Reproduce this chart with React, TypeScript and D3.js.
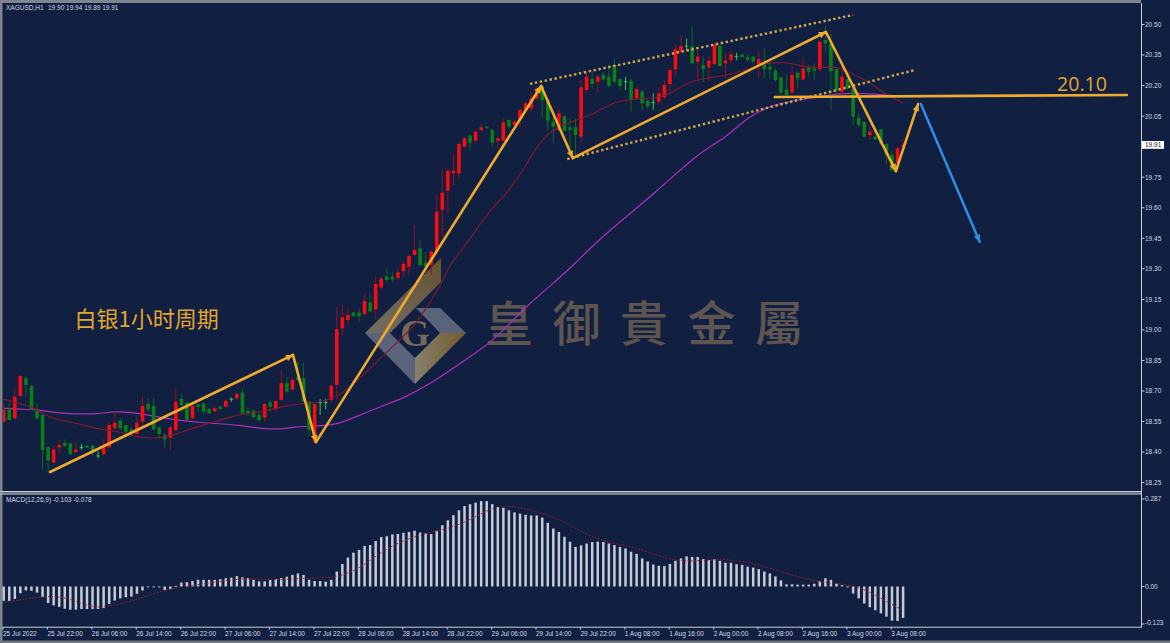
import React from 'react';
import * as d3 from 'd3';

const opens = [
18.549,18.610,18.566,18.675,18.762,18.724,18.603,18.582,18.423,18.348,
18.422,18.446,18.443,18.400,18.423,18.431,18.431,18.381,18.390,18.423,
18.517,18.554,18.533,18.512,18.489,18.549,18.636,18.626,18.521,18.482,
18.471,18.508,18.661,18.643,18.566,18.633,18.639,18.613,18.600,18.623,
18.623,18.659,18.664,18.692,18.603,18.603,18.582,18.569,18.644,18.610,
18.656,18.738,18.708,18.767,18.762,18.648,18.451,18.643,18.644,18.656,
18.730,19.008,19.049,19.085,19.085,19.078,19.134,19.101,19.209,19.262,
19.262,19.255,19.288,19.311,19.368,19.401,19.330,19.319,19.384,19.589,
19.684,19.769,19.769,19.900,19.954,19.929,19.982,19.998,19.982,19.929,
19.929,20.031,20.006,20.031,20.080,20.088,20.137,20.198,20.126,20.022,
19.982,20.050,19.995,19.995,19.949,20.178,20.232,20.219,20.252,20.244,
20.301,20.232,20.219,20.224,20.137,20.170,20.124,20.116,20.121,20.142,
20.208,20.280,20.366,20.394,20.394,20.317,20.301,20.289,20.306,20.396,
20.309,20.325,20.342,20.352,20.340,20.342,20.306,20.306,20.293,20.273,
20.240,20.181,20.165,20.263,20.230,20.289,20.284,20.280,20.424,20.407,
20.281,20.170,20.232,20.186,20.042,20.022,19.957,19.949,19.985,19.913,
19.859,19.821,19.90];
const highs = [
18.639,18.639,18.713,18.778,18.770,18.729,18.639,18.598,18.430,18.430,
18.459,18.462,18.446,18.456,18.440,18.433,18.435,18.402,18.462,18.549,
18.598,18.566,18.533,18.521,18.574,18.672,18.664,18.664,18.525,18.492,
18.533,18.713,18.688,18.647,18.631,18.639,18.643,18.616,18.626,18.625,
18.659,18.669,18.697,18.713,18.620,18.610,18.593,18.643,18.656,18.652,
18.803,18.770,18.762,18.844,18.839,18.648,18.636,18.661,18.661,18.735,
19.111,19.122,19.106,19.088,19.106,19.176,19.171,19.262,19.262,19.302,
19.286,19.311,19.335,19.373,19.515,19.442,19.384,19.393,19.663,19.794,
19.794,19.864,19.925,19.949,19.962,19.982,20.011,20.001,19.990,19.944,
20.039,20.034,20.031,20.088,20.121,20.162,20.195,20.203,20.129,20.067,
20.083,20.054,20.039,20.039,20.230,20.268,20.268,20.252,20.268,20.301,
20.329,20.235,20.244,20.235,20.191,20.178,20.137,20.162,20.191,20.230,
20.289,20.399,20.448,20.432,20.492,20.375,20.342,20.342,20.411,20.399,
20.358,20.371,20.361,20.352,20.350,20.345,20.371,20.383,20.312,20.284,
20.244,20.252,20.293,20.268,20.342,20.301,20.309,20.427,20.492,20.456,
20.284,20.293,20.235,20.194,20.064,20.022,19.998,19.952,19.985,19.916,
19.880,19.900,19.94];
const lows = [
18.541,18.557,18.558,18.672,18.672,18.607,18.558,18.312,18.304,18.345,
18.394,18.423,18.386,18.394,18.410,18.420,18.381,18.369,18.381,18.418,
18.517,18.508,18.492,18.484,18.484,18.528,18.598,18.508,18.467,18.423,
18.410,18.500,18.598,18.557,18.558,18.598,18.587,18.587,18.593,18.610,
18.620,18.647,18.656,18.582,18.574,18.566,18.549,18.549,18.598,18.593,
18.647,18.692,18.702,18.749,18.648,18.479,18.443,18.582,18.610,18.640,
18.659,18.967,19.019,19.065,19.041,19.068,19.085,19.052,19.196,19.237,
19.232,19.242,19.258,19.270,19.363,19.311,19.302,19.270,19.368,19.458,
19.573,19.712,19.749,19.897,19.880,19.920,19.974,19.988,19.900,19.889,
19.925,19.995,19.995,19.998,20.072,20.072,20.129,20.039,19.982,19.919,
19.978,19.975,19.867,19.851,19.919,20.162,20.186,20.165,20.224,20.191,
20.214,20.178,20.178,20.072,20.129,20.080,20.088,20.080,20.104,20.132,
20.170,20.244,20.361,20.371,20.306,20.224,20.219,20.219,20.301,20.293,
20.235,20.309,20.325,20.337,20.317,20.312,20.240,20.235,20.235,20.219,
20.154,20.149,20.162,20.186,20.227,20.247,20.230,20.268,20.366,20.080,
20.145,20.162,20.178,20.006,19.998,19.946,19.930,19.933,19.908,19.818,
19.777,19.777,19.89];
const closes = [
18.607,18.557,18.672,18.774,18.729,18.610,18.566,18.410,18.358,18.413,
18.435,18.430,18.390,18.413,18.421,18.422,18.397,18.379,18.423,18.533,
18.544,18.517,18.500,18.495,18.544,18.626,18.610,18.512,18.489,18.462,
18.521,18.647,18.631,18.557,18.626,18.623,18.598,18.590,18.615,18.611,
18.651,18.657,18.685,18.590,18.590,18.571,18.557,18.636,18.623,18.651,
18.738,18.697,18.754,18.754,18.648,18.509,18.636,18.641,18.642,18.725,
19.003,19.062,19.073,19.068,19.068,19.142,19.091,19.226,19.252,19.245,
19.248,19.283,19.324,19.363,19.393,19.319,19.311,19.384,19.581,19.674,
19.782,19.782,19.913,19.941,19.920,19.974,19.995,19.992,19.920,19.941,
20.019,19.998,20.023,20.080,20.113,20.137,20.186,20.129,20.027,19.998,
20.064,19.978,19.982,19.957,20.191,20.244,20.208,20.244,20.230,20.198,
20.219,20.198,20.217,20.129,20.183,20.113,20.100,20.114,20.162,20.203,
20.276,20.379,20.394,20.392,20.309,20.342,20.280,20.322,20.402,20.296,
20.322,20.353,20.340,20.340,20.327,20.317,20.330,20.280,20.280,20.227,
20.165,20.154,20.252,20.235,20.284,20.268,20.273,20.415,20.407,20.271,
20.178,20.244,20.186,20.047,20.006,19.949,19.974,19.936,19.916,19.859,
19.785,19.892,19.91];

const redMaBars = [0,2,5,7,9,13,17,20,22,24,27,30,33,37,41,44,47,51,55,60,66,70,74,77,79,80,84,87,91,94,97,101,104,107,110,113,119,121,124,128,133,137,140,143,146,150,152,156,158,162];
const redMaValues = [18.659,18.643,18.626,18.590,18.561,18.544,18.512,18.503,18.492,18.472,18.467,18.476,18.508,18.541,18.574,18.593,18.598,18.631,18.639,18.655,18.811,18.918,19.016,19.147,19.229,19.311,19.442,19.573,19.679,19.802,19.949,20.015,20.035,20.072,20.121,20.132,20.142,20.178,20.227,20.239,20.268,20.309,20.317,20.301,20.284,20.296,20.268,20.219,20.170,20.113];
const purpleMaBars = [0,3,6,9,13,17,20,23,26,29,32,36,38,42,45,48,50,53,56,60,64,68,72,77,80,85,89,94,99,103,107,118,125,130,134,139,145,149,152,157,161];
const purpleMaValues = [18.615,18.610,18.610,18.593,18.587,18.587,18.600,18.595,18.582,18.566,18.554,18.544,18.541,18.533,18.521,18.513,18.513,18.525,18.528,18.533,18.580,18.625,18.664,18.738,18.795,18.885,18.967,19.114,19.229,19.327,19.442,19.687,19.867,19.941,20.047,20.113,20.137,20.154,20.165,20.158,20.149];

const macd = [
-0.047,-0.047,-0.041,-0.022,-0.013,-0.014,-0.020,-0.035,-0.054,-0.062,
-0.067,-0.073,-0.076,-0.076,-0.074,-0.074,-0.074,-0.074,-0.071,-0.057,
-0.046,-0.039,-0.035,-0.033,-0.024,-0.013,-0.001,-0.001,-0.003,-0.011,
-0.009,0.002,0.013,0.014,0.018,0.022,0.022,0.022,0.022,0.024,
0.027,0.029,0.034,0.030,0.027,0.022,0.017,0.017,0.021,0.024,
0.028,0.032,0.038,0.043,0.038,0.022,0.018,0.018,0.016,0.022,
0.049,0.074,0.095,0.111,0.120,0.133,0.136,0.149,0.162,0.165,
0.171,0.172,0.176,0.179,0.183,0.177,0.174,0.172,0.183,0.201,
0.217,0.234,0.250,0.264,0.270,0.275,0.280,0.280,0.270,0.261,
0.258,0.250,0.243,0.239,0.235,0.233,0.233,0.226,0.209,0.190,
0.179,0.163,0.147,0.130,0.135,0.141,0.146,0.147,0.146,0.141,
0.136,0.130,0.125,0.114,0.107,0.092,0.082,0.072,0.068,0.067,
0.074,0.084,0.092,0.099,0.097,0.097,0.090,0.087,0.090,0.084,
0.078,0.078,0.073,0.071,0.065,0.062,0.057,0.049,0.043,0.033,
0.020,0.007,0.007,0.006,0.006,0.006,0.009,0.018,0.027,0.022,
0.009,0.004,-0.003,-0.023,-0.039,-0.056,-0.068,-0.078,-0.088,-0.099,
-0.112,-0.113,-0.103];
const signalBars = [0,4,8,12,16,20,24,28,32,36,40,44,48,52,56,60,64,68,72,76,80,84,88,92,96,100,104,108,112,116,120,124,128,132,136,140,144,148,152,156,160,162];
const signalValues = [-0.052,-0.041,-0.030,-0.038,-0.073,-0.062,-0.043,-0.016,0.000,0.008,0.020,0.027,0.022,0.024,0.029,0.029,0.057,0.114,0.152,0.174,0.190,0.217,0.261,0.264,0.245,0.223,0.179,0.147,0.136,0.114,0.087,0.082,0.089,0.087,0.071,0.049,0.027,0.011,0.009,-0.016,-0.060,-0.078];

const timeLabels = ['25 Jul 2022','25 Jul 22:00','26 Jul 06:00','26 Jul 14:00','26 Jul 22:00','27 Jul 06:00','27 Jul 14:00','27 Jul 22:00','28 Jul 06:00','28 Jul 14:00','28 Jul 22:00','29 Jul 06:00','29 Jul 14:00','29 Jul 22:00','1 Aug 08:00','1 Aug 16:00','2 Aug 00:00','2 Aug 08:00','2 Aug 16:00','3 Aug 00:00','3 Aug 08:00'];
const priceTicks = [20.5,20.35,20.2,20.05,19.9,19.75,19.6,19.45,19.3,19.15,19.0,18.85,18.7,18.55,18.4,18.25];
const macdTicks = [0.287,0,-0.123];

type Seg = { a: [number, number]; b: [number, number]; arrow: boolean };
const goldSegments: Seg[] = [
  { a: [8.34, 18.302], b: [52.1, 18.877], arrow: true },
  { a: [52.1, 18.877], b: [56.25, 18.449], arrow: true },
  { a: [56.25, 18.449], b: [96.8, 20.198], arrow: true },
  { a: [96.8, 20.198], b: [102.5, 19.844], arrow: true },
  { a: [102.5, 19.844], b: [148.1, 20.463], arrow: true },
  { a: [148.1, 20.463], b: [160.7, 19.78], arrow: true },
  { a: [160.7, 19.78], b: [164.7, 20.11], arrow: true },
  { a: [138.9, 20.144], b: [202.3, 20.154], arrow: false },
];
const blueSegment: Seg = { a: [165.2, 20.11], b: [175.8, 19.432], arrow: true };
const dottedSegments: Seg[] = [
  { a: [94.8, 20.208], b: [153, 20.547], arrow: false },
  { a: [101.5, 19.839], b: [164.2, 20.277], arrow: false },
];

const BG = '#111f41';
const FRAME = '#c9d0d6';
const TXT = '#d3d9e2';
const GOLD = '#efac2c';
const UI = '"Liberation Sans", Arial, sans-serif';

const x = d3.scaleLinear().domain([0, 162]).range([3.7, 903.1]);
const y = d3.scaleLinear().domain([20.5, 18.25]).range([24.5, 482.6]);
const yM = d3.scaleLinear().domain([0.287, -0.123]).range([499, 624]);

const curve = d3.curveBasis;
const maLine = d3.line<[number, number]>().x(d => x(d[0])).y(d => y(d[1])).curve(curve);
const sigLine = d3.line<[number, number]>().x(d => x(d[0])).y(d => yM(d[1])).curve(curve);

function SegLine({ s, color, w }: { s: Seg; color: string; w: number }) {
  const x1 = x(s.a[0]), y1 = y(s.a[1]), x2 = x(s.b[0]), y2 = y(s.b[1]);
  const ang = Math.atan2(y2 - y1, x2 - x1);
  const L = 7, H = 3.4;
  const bx = x2 - L * Math.cos(ang), by = y2 - L * Math.sin(ang);
  const pts = [[x2, y2], [bx - H * Math.sin(ang), by + H * Math.cos(ang)], [bx + H * Math.sin(ang), by - H * Math.cos(ang)]];
  return (
    <g>
      <line x1={x1} y1={y1} x2={x2} y2={y2} stroke={color} strokeWidth={w} strokeLinecap="round" />
      {s.arrow && <polygon points={pts.map(p => p.join(',')).join(' ')} fill={color} />}
    </g>
  );
}

export default function App() {
  return (
    <svg width={1170} height={643} style={{ position: 'absolute', left: 0, top: 0, display: 'block', background: BG }} fontFamily={UI}>
      <defs>
        <linearGradient id="goldBand" x1="0" y1="1" x2="1" y2="0">
          <stop offset="0" stopColor="#736e66" />
          <stop offset="1" stopColor="#655330" />
        </linearGradient>
        <linearGradient id="goldLow" x1="0" y1="0" x2="1" y2="0">
          <stop offset="0" stopColor="#87806f" />
          <stop offset="1" stopColor="#705a28" />
        </linearGradient>
        <clipPath id="mainClip"><rect x={3} y={3} width={1138} height={488} /></clipPath>
      </defs>

      {/* window frame */}
      <rect x={0} y={0} width={1141} height={3} fill="#7d868e" />
      <rect x={0} y={0} width={2.5} height={643} fill="#7d868e" />
      <rect x={0} y={640.5} width={1170} height={2.5} fill="#6f7880" />
      <rect x={0} y={491} width={1141} height={1.2} fill={FRAME} />
      <rect x={0} y={492.2} width={1141} height={1.3} fill="#6f7880" />
      <rect x={0} y={493.5} width={1141} height={1} fill={FRAME} />
      <rect x={2.5} y={626.7} width={1139} height={1} fill={FRAME} />
      <rect x={1141} y={3} width={1} height={624.7} fill={FRAME} />

      {/* watermark logo */}
      <g>
        <polygon points="365,333 441,258 441,282 390,333" fill="url(#goldBand)" />
        <polygon points="365,333 390,333 415,358 415,384" fill="#5a6379" />
        <polygon points="415,384 415,358 440,333 466,333" fill="url(#goldLow)" />
        <polygon points="416,308 440,308 466,333 440,333" fill="#5a6379" />
        <text x={415} y={346} textAnchor="middle" fontFamily='"Liberation Serif", serif' fontWeight={700} fontSize={38} fill="#77695a">G</text>
        <text x={485} y={341} fontFamily='"Noto Sans CJK TC", sans-serif' fontWeight={500} fontSize={48} letterSpacing={19.5} fill="#5e5550">皇御貴金屬</text>
      </g>

      <g clipPath="url(#mainClip)">
        {/* moving averages */}
        <path d={maLine(purpleMaBars.map((b, i) => [b, purpleMaValues[i]] as [number, number])) || ''} fill="none" stroke="#ad2fbc" strokeWidth={1.2} />
        {/* candles */}
        {opens.map((o, i) => {
          const c = closes[i];
          const up = c > o;
          const doji = Math.abs(c - o) < 0.0035;
          const cx = x(i);
          const top = y(Math.max(o, c));
          const bottom = y(Math.min(o, c));
          const body = up ? '#f50d13' : '#0a7f18';
          const wick = doji ? '#37c553' : up ? '#94121f' : '#0c6a22';
          return (
            <g key={i}>
              <line x1={cx} x2={cx} y1={y(highs[i])} y2={y(lows[i])} stroke={wick} strokeWidth={1} />
              {doji
                ? <line x1={cx - 1.8} x2={cx + 1.8} y1={top} y2={top} stroke={wick} strokeWidth={1} />
                : <rect x={cx - 1.8} y={top} width={3.6} height={Math.max(bottom - top, 1)} fill={body} />}
            </g>
          );
        })}
        <path d={maLine(redMaBars.map((b, i) => [b, redMaValues[i]] as [number, number])) || ''} fill="none" stroke="#85192f" strokeWidth={1.1} />

        {/* drawings */}
        {dottedSegments.map((s, i) => (
          <line key={i} x1={x(s.a[0])} y1={y(s.a[1])} x2={x(s.b[0])} y2={y(s.b[1])} stroke="#d4a74c" strokeWidth={2.4} strokeDasharray="2.4 2.6" />
        ))}
        {goldSegments.map((s, i) => <SegLine key={i} s={s} color={GOLD} w={2.6} />)}
        <SegLine s={blueSegment} color="#2f8ee6" w={2.5} />
      </g>

      {/* annotations */}
      <text x={74.5} y={327} fontFamily='"Noto Sans CJK SC", sans-serif' fontSize={22} fill="#e3a52d">白银1小时周期</text>
      <text x={1057} y={91} fontFamily='"Open Sans", sans-serif' fontSize={19.6} fill="#e3a52d">20.10</text>

      {/* headers */}
      <text x={6} y={9.5} fontSize={6.5} fill={TXT}>XAGUSD,H1</text>
      <text x={48} y={9.5} fontSize={6.5} fill={TXT}>19.90 19.94 19.89 19.91</text>
      <text x={6} y={502} fontSize={6.5} fill={TXT}>MACD(12,26,9) -0.103 -0.078</text>

      {/* price axis */}
      {priceTicks.map(t => (
        <g key={t}>
          <line x1={1142} x2={1144.5} y1={y(t)} y2={y(t)} stroke={FRAME} strokeWidth={1} />
          {t !== 19.9 && <text x={1145} y={y(t) + 2.4} fontSize={6.5} fill={TXT}>{t.toFixed(2)}</text>}
        </g>
      ))}
      <rect x={1142} y={141} width={22} height={7.8} fill="#ffffff" />
      <text x={1145} y={147.2} fontSize={6.5} fill="#1a2233">19.91</text>

      {/* MACD */}
      {macd.map((v, i) => (
        <rect key={i} x={x(i) - 1.25} y={Math.min(yM(v), yM(0))} width={2.5} height={Math.max(Math.abs(yM(v) - yM(0)), 0.9)} fill="#c5cad5" />
      ))}
      <path d={sigLine(signalBars.map((b, i) => [b, signalValues[i]] as [number, number])) || ''} fill="none" stroke="#a01c38" strokeWidth={1} strokeDasharray="1.6 1.6" />
      {macdTicks.map(t => (
        <g key={t}>
          <line x1={1142} x2={1144.5} y1={yM(t)} y2={yM(t)} stroke={FRAME} strokeWidth={1} />
          <text x={1145} y={yM(t) + 2.4 - (t < 0 ? 1.2 : 0)} fontSize={6.5} fill={TXT}>{t === 0 ? '0.00' : t.toFixed(3)}</text>
        </g>
      ))}

      {/* time axis */}
      {timeLabels.map((lab, i) => {
        const tx = x(i * 8) - 0.7;
        return (
          <g key={lab}>
            <line x1={tx} x2={tx} y1={627} y2={629.5} stroke={FRAME} strokeWidth={1} />
            <text x={tx} y={635.6} fontSize={6.5} fill={TXT}>{lab}</text>
          </g>
        );
      })}
    </svg>
  );
}
